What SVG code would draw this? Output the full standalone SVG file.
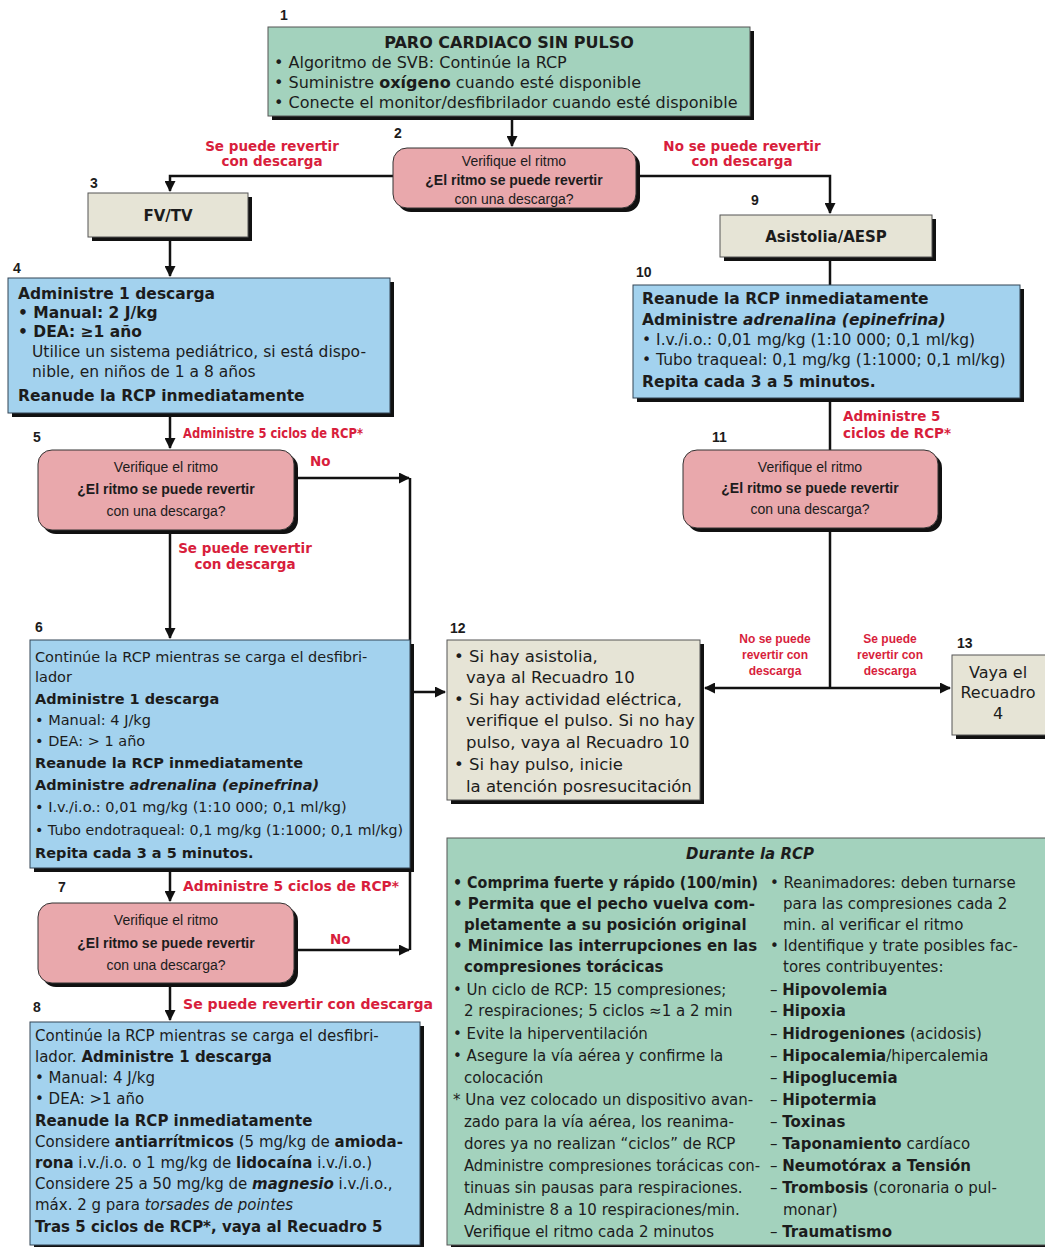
<svg xmlns="http://www.w3.org/2000/svg" width="1045" height="1247" viewBox="0 0 1045 1247">
<defs>
<marker id="ah" markerWidth="11" markerHeight="11" refX="10" refY="5.5" orient="auto" markerUnits="userSpaceOnUse">
<path d="M0,0 L11,5.5 L0,11 Z" fill="#111"/>
</marker>
<style>
text{font-family:"DejaVu Sans","Liberation Sans",Arial,sans-serif;fill:#1c1c1c;font-size:15.5px}
.b{font-weight:bold}
.i{font-style:italic}
.c{text-anchor:middle}
.d{font-family:"Liberation Sans",Arial,sans-serif;font-size:14px}
.n{font-family:"Liberation Sans",Arial,sans-serif;font-weight:bold;font-size:14px}
.r{fill:#d81e3c;font-weight:bold;font-size:13.5px}
.rs{fill:#d81e3c;font-weight:bold;font-size:12px;font-family:"Liberation Sans",Arial,sans-serif}
.f16{font-size:16px}
.f165{font-size:16.5px}
.f145{font-size:14.5px}
.f15{font-size:15px}
.sh{fill:#111}
.g{fill:#a3d2bd;stroke:#555;stroke-width:1}
.p{fill:#e9a8ac;stroke:#333;stroke-width:1}
.y{fill:#e6e4d6;stroke:#555;stroke-width:1}
.bl{fill:#a3d2ee;stroke:#345;stroke-width:1}
.ln{fill:none;stroke:#111;stroke-width:2.5}
.ar{fill:none;stroke:#111;stroke-width:2.5;marker-end:url(#ah)}
</style>
</defs>
<rect width="1045" height="1247" fill="#fff"/>

<g id="connectors">
<path class="ar" d="M512,117 V146"/>
<path class="ar" d="M393,176 H170 V191"/>
<path class="ar" d="M636,176 H830 V213"/>
<path class="ar" d="M170,237 V276"/>
<path class="ln" d="M830,257 V285"/>
<path class="ln" d="M830,398 V450"/>
<path class="ln" d="M830,528 V688"/>
<path class="ar" d="M830,688 H705"/>
<path class="ar" d="M830,688 H950"/>
<path class="ar" d="M170,417 V448"/>
<path class="ar" d="M298,478 H409"/>
<path class="ln" d="M410,478 V950"/>
<path class="ar" d="M410,692 H445"/>
<path class="ar" d="M170,530 V638"/>
<path class="ar" d="M170,868 V901"/>
<path class="ar" d="M298,950 H409"/>
<path class="ar" d="M170,986 V1020"/>
<text class="r c" x="272" y="151">Se puede revertir</text>
<text class="r c" x="272" y="166">con descarga</text>
<text class="r c" x="742" y="151">No se puede revertir</text>
<text class="r c" x="742" y="166">con descarga</text>
<text class="r" x="183" y="438" textLength="180" lengthAdjust="spacingAndGlyphs">Administre 5 ciclos de RCP*</text>
<text class="r" x="843" y="421">Administre 5</text>
<text class="r" x="843" y="438">ciclos de RCP*</text>
<text class="r" x="310" y="466">No</text>
<text class="r c" x="245" y="553">Se puede revertir</text>
<text class="r c" x="245" y="569">con descarga</text>
<text class="rs c" x="775" y="643">No se puede</text>
<text class="rs c" x="775" y="659">revertir con</text>
<text class="rs c" x="775" y="675">descarga</text>
<text class="rs c" x="890" y="643">Se puede</text>
<text class="rs c" x="890" y="659">revertir con</text>
<text class="rs c" x="890" y="675">descarga</text>
<text class="r" x="183" y="891" textLength="216" lengthAdjust="spacingAndGlyphs">Administre 5 ciclos de RCP*</text>
<text class="r" x="330" y="944">No</text>
<text class="r" x="183" y="1009" textLength="250" lengthAdjust="spacingAndGlyphs">Se puede revertir con descarga</text>
</g>

<g id="n1">
<text class="n" x="280" y="20">1</text>
<rect class="sh" x="272" y="31" width="482" height="89"/>
<rect class="g" x="268" y="27" width="482" height="89"/>
<text class="b c f16" x="509" y="48">PARO CARDIACO SIN PULSO</text>
<text class="f16" x="274" y="68">• Algoritmo de SVB: Continúe la RCP</text>
<text class="f16" x="274" y="88">• Suministre <tspan class="b">oxígeno</tspan> cuando esté disponible</text>
<text class="f16" x="274" y="108">• Conecte el monitor/desfibrilador cuando esté disponible</text>
</g>

<g id="n2">
<text class="n" x="394" y="138">2</text>
<rect class="sh" x="397" y="152" width="243" height="60" rx="14"/>
<rect class="p" x="393" y="148" width="243" height="60" rx="14"/>
<text class="d c" x="514" y="166">Verifique el ritmo</text>
<text class="d b c" x="514" y="185">¿El ritmo se puede revertir</text>
<text class="d c" x="514" y="204">con una descarga?</text>
</g>

<g id="n3">
<text class="n" x="90" y="188">3</text>
<rect class="sh" x="92" y="197" width="160" height="44"/>
<rect class="y" x="88" y="193" width="160" height="44"/>
<text class="b c f15" x="168" y="221">FV/TV</text>
</g>

<g id="n4">
<text class="n" x="13" y="273">4</text>
<rect class="sh" x="12" y="282" width="382" height="135"/>
<rect class="bl" x="8" y="278" width="382" height="135"/>
<text class="b" x="18" y="299">Administre 1 descarga</text>
<text class="b" x="18" y="318">• Manual: 2 J/kg</text>
<text class="b" x="18" y="337">• DEA: ≥1 año</text>
<text x="32" y="357">Utilice un sistema pediátrico, si está dispo-</text>
<text x="32" y="377">nible, en niños de 1 a 8 años</text>
<text class="b" x="18" y="401">Reanude la RCP inmediatamente</text>
</g>

<g id="n9">
<text class="n" x="751" y="205">9</text>
<rect class="sh" x="724" y="219" width="212" height="42"/>
<rect class="y" x="720" y="215" width="212" height="42"/>
<text class="b c f15" x="826" y="242">Asistolia/AESP</text>
</g>

<g id="n10">
<text class="n" x="636" y="277">10</text>
<rect class="sh" x="637" y="289" width="387" height="113"/>
<rect class="bl" x="633" y="285" width="387" height="113"/>
<text class="b" x="642" y="304">Reanude la RCP inmediatamente</text>
<text class="b" x="642" y="325">Administre <tspan class="i">adrenalina (epinefrina)</tspan></text>
<text x="642" y="345">• I.v./i.o.: 0,01 mg/kg (1:10 000; 0,1 ml/kg)</text>
<text x="642" y="365">• Tubo traqueal: 0,1 mg/kg (1:1000; 0,1 ml/kg)</text>
<text class="b" x="642" y="387">Repita cada 3 a 5 minutos.</text>
</g>

<g id="n5">
<text class="n" x="33" y="442">5</text>
<rect class="sh" x="42" y="454" width="256" height="80" rx="14"/>
<rect class="p" x="38" y="450" width="256" height="80" rx="14"/>
<text class="d c" x="166" y="472">Verifique el ritmo</text>
<text class="d b c" x="166" y="494">¿El ritmo se puede revertir</text>
<text class="d c" x="166" y="516">con una descarga?</text>
</g>

<g id="n11">
<text class="n" x="712" y="442">11</text>
<rect class="sh" x="687" y="454" width="255" height="78" rx="14"/>
<rect class="p" x="683" y="450" width="255" height="78" rx="14"/>
<text class="d c" x="810" y="472">Verifique el ritmo</text>
<text class="d b c" x="810" y="493">¿El ritmo se puede revertir</text>
<text class="d c" x="810" y="514">con una descarga?</text>
</g>

<g id="n6">
<text class="n" x="35" y="632">6</text>
<rect class="sh" x="34" y="644" width="380" height="228"/>
<rect class="bl" x="30" y="640" width="380" height="228"/>
<text class="f145" x="35" y="662">Continúe la RCP mientras se carga el desfibri-</text>
<text class="f145" x="35" y="682">lador</text>
<text class="f145 b" x="35" y="704">Administre 1 descarga</text>
<text class="f145" x="35" y="725">• Manual: 4 J/kg</text>
<text class="f145" x="35" y="746">• DEA: &gt; 1 año</text>
<text class="f145 b" x="35" y="768">Reanude la RCP inmediatamente</text>
<text class="f145 b" x="35" y="790">Administre <tspan class="i">adrenalina (epinefrina)</tspan></text>
<text class="f145" x="35" y="812">• I.v./i.o.: 0,01 mg/kg (1:10 000; 0,1 ml/kg)</text>
<text class="f145" x="35" y="835" textLength="368" lengthAdjust="spacingAndGlyphs">• Tubo endotraqueal: 0,1 mg/kg (1:1000; 0,1 ml/kg)</text>
<text class="f145 b" x="35" y="858">Repita cada 3 a 5 minutos.</text>
</g>

<g id="n12">
<text class="n" x="450" y="633">12</text>
<rect class="sh" x="451" y="644" width="253" height="160"/>
<rect class="y" x="447" y="640" width="253" height="160"/>
<text class="f165" x="454" y="662">• Si hay asistolia,</text>
<text class="f165" x="466" y="683">vaya al Recuadro 10</text>
<text class="f165" x="454" y="705">• Si hay actividad eléctrica,</text>
<text class="f165" x="466" y="726">verifique el pulso. Si no hay</text>
<text class="f165" x="466" y="748">pulso, vaya al Recuadro 10</text>
<text class="f165" x="454" y="770">• Si hay pulso, inicie</text>
<text class="f165" x="466" y="792">la atención posresucitación</text>
</g>

<g id="n13">
<text class="n" x="957" y="648">13</text>
<rect class="sh" x="956" y="659" width="100" height="80"/>
<rect class="y" x="952" y="655" width="100" height="80"/>
<text class="c f16" x="998" y="678">Vaya el</text>
<text class="c f16" x="998" y="698">Recuadro</text>
<text class="c f16" x="998" y="719">4</text>
</g>

<g id="n7">
<text class="n" x="58" y="892">7</text>
<rect class="sh" x="42" y="907" width="256" height="80" rx="14"/>
<rect class="p" x="38" y="903" width="256" height="80" rx="14"/>
<text class="d c" x="166" y="925">Verifique el ritmo</text>
<text class="d b c" x="166" y="948">¿El ritmo se puede revertir</text>
<text class="d c" x="166" y="970">con una descarga?</text>
</g>

<g id="n8">
<text class="n" x="33" y="1012">8</text>
<rect class="sh" x="34" y="1026" width="390" height="223"/>
<rect class="bl" x="30" y="1022" width="390" height="223"/>
<text class="f15" x="35" y="1041">Continúe la RCP mientras se carga el desfibri-</text>
<text class="f15" x="35" y="1062">lador. <tspan class="b">Administre 1 descarga</tspan></text>
<text class="f15" x="35" y="1083">• Manual: 4 J/kg</text>
<text class="f15" x="35" y="1104">• DEA: &gt;1 año</text>
<text class="f15 b" x="35" y="1126">Reanude la RCP inmediatamente</text>
<text class="f15" x="35" y="1147">Considere <tspan class="b">antiarrítmicos</tspan> (5 mg/kg de <tspan class="b">amioda-</tspan></text>
<text class="f15" x="35" y="1168"><tspan class="b">rona</tspan> i.v./i.o. o 1 mg/kg de <tspan class="b">lidocaína</tspan> i.v./i.o.)</text>
<text class="f15" x="35" y="1189">Considere 25 a 50 mg/kg de <tspan class="b i">magnesio</tspan> i.v./i.o.,</text>
<text class="f15" x="35" y="1210">máx. 2 g para <tspan class="i">torsades de pointes</tspan></text>
<text class="f15 b" x="35" y="1232">Tras 5 ciclos de RCP*, vaya al Recuadro 5</text>
</g>

<g id="n_durante">
<rect class="sh" x="451" y="842" width="600" height="407"/>
<rect class="g" x="447" y="838" width="600" height="407"/>
<text class="b i c f15" x="750" y="859">Durante la RCP</text>
<text class="b f15" x="453" y="888" textLength="305" lengthAdjust="spacingAndGlyphs">• Comprima fuerte y rápido (100/min)</text>
<text class="b f15" x="453" y="909">• Permita que el pecho vuelva com-</text>
<text class="b f15" x="464" y="930">pletamente a su posición original</text>
<text class="b f15" x="453" y="951">• Minimice las interrupciones en las</text>
<text class="b f15" x="464" y="972">compresiones torácicas</text>
<text class="f15" x="453" y="995">• Un ciclo de RCP: 15 compresiones;</text>
<text class="f15" x="464" y="1016">2 respiraciones; 5 ciclos ≈1 a 2 min</text>
<text class="f15" x="453" y="1039">• Evite la hiperventilación</text>
<text class="f15" x="453" y="1061">• Asegure la vía aérea y confirme la</text>
<text class="f15" x="464" y="1083">colocación</text>
<text class="f15" x="453" y="1105">* Una vez colocado un dispositivo avan-</text>
<text class="f15" x="464" y="1127">zado para la vía aérea, los reanima-</text>
<text class="f15" x="464" y="1149">dores ya no realizan “ciclos” de RCP</text>
<text class="f15" x="464" y="1171" textLength="296" lengthAdjust="spacingAndGlyphs">Administre compresiones torácicas con-</text>
<text class="f15" x="464" y="1193">tinuas sin pausas para respiraciones.</text>
<text class="f15" x="464" y="1215">Administre 8 a 10 respiraciones/min.</text>
<text class="f15" x="464" y="1237">Verifique el ritmo cada 2 minutos</text>
<text class="f15" x="770" y="888">• Reanimadores: deben turnarse</text>
<text class="f15" x="783" y="909">para las compresiones cada 2</text>
<text class="f15" x="783" y="930">min. al verificar el ritmo</text>
<text class="f15" x="770" y="951">• Identifique y trate posibles fac-</text>
<text class="f15" x="783" y="972">tores contribuyentes:</text>
<text class="f15" x="770" y="995">– <tspan class="b">Hipovolemia</tspan></text>
<text class="f15" x="770" y="1016">– <tspan class="b">Hipoxia</tspan></text>
<text class="f15" x="770" y="1039">– <tspan class="b">Hidrogeniones</tspan> (acidosis)</text>
<text class="f15" x="770" y="1061">– <tspan class="b">Hipocalemia</tspan>/hipercalemia</text>
<text class="f15" x="770" y="1083">– <tspan class="b">Hipoglucemia</tspan></text>
<text class="f15" x="770" y="1105">– <tspan class="b">Hipotermia</tspan></text>
<text class="f15" x="770" y="1127">– <tspan class="b">Toxinas</tspan></text>
<text class="f15" x="770" y="1149">– <tspan class="b">Taponamiento</tspan> cardíaco</text>
<text class="f15" x="770" y="1171">– <tspan class="b">Neumotórax a Tensión</tspan></text>
<text class="f15" x="770" y="1193">– <tspan class="b">Trombosis</tspan> (coronaria o pul-</text>
<text class="f15" x="783" y="1215">monar)</text>
<text class="f15" x="770" y="1237">– <tspan class="b">Traumatismo</tspan></text>
</g>
</svg>
